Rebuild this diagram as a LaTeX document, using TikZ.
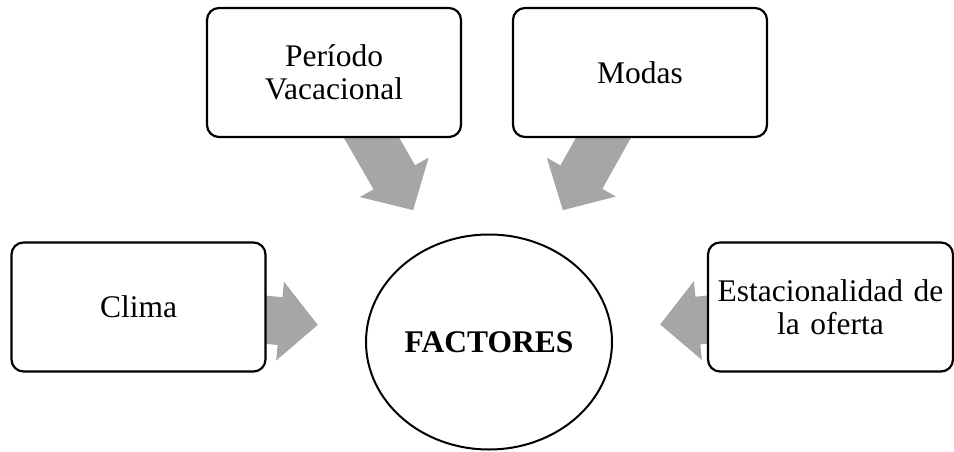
\documentclass[tikz,border=0pt]{standalone}
\usepackage{fontspec}
\setmainfont{Liberation Serif}
\usepackage{xcolor}
\usetikzlibrary{arrows.meta,shapes.geometric,backgrounds}
\definecolor{arrowgray}{RGB}{166,166,166}

\begin{document}
\begin{tikzpicture}[x=1pt, y=-1pt,
    factorbox/.style={draw, line width=2.2pt, rounded corners=12pt, fill=white,
      minimum width=254pt, minimum height=129pt, align=center, inner sep=0pt,
      font=\fontsize{31.5}{32.5}\selectfont},
    fatarrow/.style={arrowgray, line width=48pt, -{Triangle[width=77pt, length=38pt]}}]
    \def\Ytop{72.5}
    \def\Ymid{307}
    \useasboundingbox (0,0) rectangle (954,452);
    \node[factorbox] (periodo) at (334,\Ytop) {Período\\Vacacional};
    \node[factorbox] (modas) at (640,\Ytop) {Modas};
    \node[factorbox] (clima) at (138.5,\Ymid) {Clima};
    \node[factorbox, minimum width=245pt, text width=240pt] (oferta) at (830.5,\Ymid) {Estacionalidad de\\la oferta};
    \node[ellipse, draw, line width=2pt, minimum width=246pt, minimum height=215pt, inner sep=0pt,
      font=\bfseries\fontsize{31.5}{32.5}\selectfont] (fac) at (489,342) {FACTORES};
    \begin{scope}[on background layer]
      \foreach \src/\cut in {periodo/152, modas/151, clima/172, oferta/172} {
        \draw[fatarrow, shorten >=\cut pt] (\src.center) -- (fac.center);
      }
    \end{scope}
  \end{tikzpicture}
\end{document}
